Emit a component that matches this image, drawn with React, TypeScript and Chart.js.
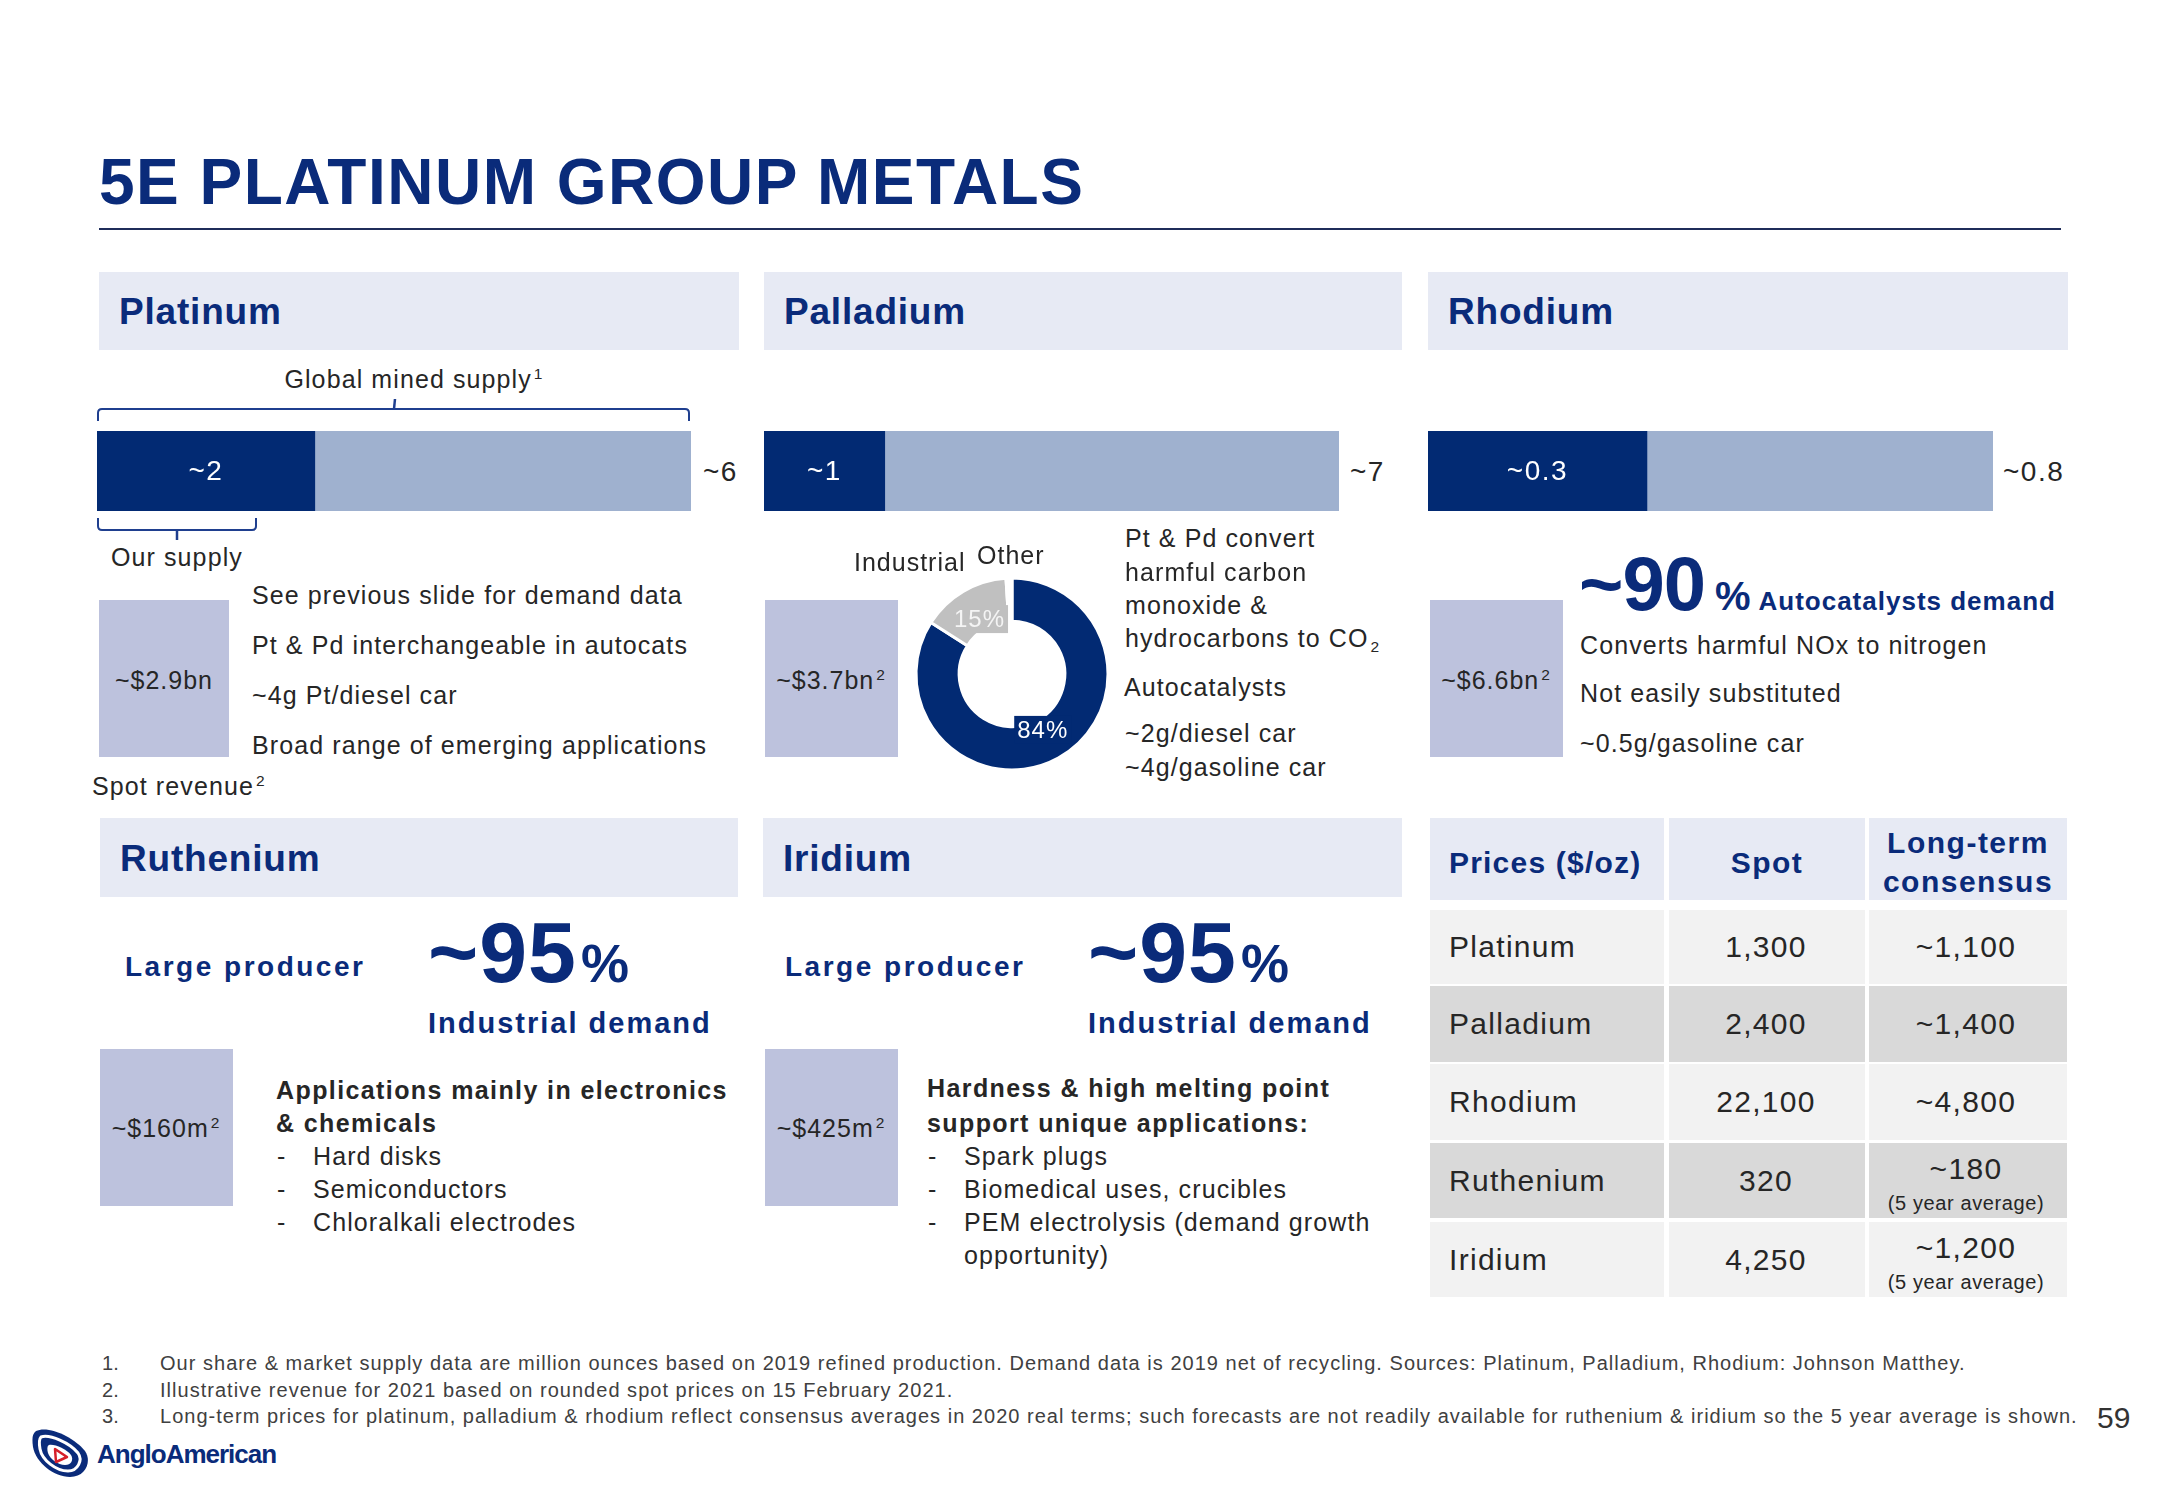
import React, { useEffect, useRef } from 'react';
import { Chart, registerables } from 'chart.js';

Chart.register(...registerables);

// ---------- data ----------
const supplyMetals = ['Platinum', 'Palladium', 'Rhodium'];
const ourSupply = [2.2, 1.47, 0.31];
const globalSupply = [6, 7, 0.8]; // Moz
const ourSupplyLabels = ['~2', '~1', '~0.3'];
const globalSupplyLabels = ['~6', '~7', '~0.8'];

const demandCategories = ['Autocatalysts', 'Industrial', 'Other'];
const palladiumDemandShare = [84, 15, 1];
const demandShareLabels = ['84%', '15%', ''];

const spotRevenue = ['~$2.9bn', '~$3.7bn', '~$6.6bn', '~$160m', '~$425m'];

const priceMetals = ['Platinum', 'Palladium', 'Rhodium', 'Ruthenium', 'Iridium'];
const spotPrices = ['1,300', '2,400', '22,100', '320', '4,250'];
const longTermPrices = ['~1,100', '~1,400', '~4,800', '~180', '~1,200'];
const longTermNotes = ['', '', '', '(5 year average)', '(5 year average)'];

const footnotes = [
  'Our share & market supply data are million ounces based on 2019 refined production. Demand data is 2019 net of recycling. Sources: Platinum, Palladium, Rhodium: Johnson Matthey.',
  'Illustrative revenue for 2021 based on rounded spot prices on 15 February 2021.',
  'Long-term prices for platinum, palladium & rhodium reflect consensus averages in 2020 real terms; such forecasts are not readily available for ruthenium & iridium so the 5 year average is shown.',
];

// ---------- styles ----------
const NAVY = '#0a2b7a';
const BAR_DARK = '#022a73';
const BAR_LIGHT = '#9fb1cf';
const HEADER_BG = '#e7eaf4';
const REV_BOX = '#bdc2dd';
const DONUT_GRAY = '#c0c0c0';
const TEXT = '#262626';
const FONT = '"Liberation Sans", Arial, sans-serif';

type TP = {
  x: number;
  y: number;
  size: number;
  bold?: boolean;
  color?: string;
  ls?: number;
  align?: 'left' | 'center' | 'right';
  children: any;
};

const T = ({ x, y, size, bold, color = TEXT, ls = 0, align = 'left', children }: TP) => {
  const tx = align === 'center' ? '-50%' : align === 'right' ? '-100%' : '0';
  return (
    <div
      style={{
        position: 'absolute',
        left: x,
        top: y,
        fontSize: size,
        fontWeight: bold ? 700 : 400,
        color,
        letterSpacing: ls,
        lineHeight: 1,
        whiteSpace: 'nowrap',
        transform: `translate(${tx}, -50%)`,
      }}
    >
      {children}
    </div>
  );
};

const Sup = ({ children }: { children: any }) => (
  <span style={{ fontSize: '0.62em', position: 'relative', top: '-0.6em', marginLeft: 2 }}>{children}</span>
);
const Sub = ({ children }: { children: any }) => (
  <span style={{ fontSize: '0.62em', position: 'relative', top: '0.35em', marginLeft: 2 }}>{children}</span>
);

const Box = ({ x, y, w, h, bg }: { x: number; y: number; w: number; h: number; bg: string }) => (
  <div style={{ position: 'absolute', left: x, top: y, width: w, height: h, background: bg }} />
);

// ---------- charts ----------
function SupplyBar({ index, left, top, width, height }: { index: number; left: number; top: number; width: number; height: number }) {
  const ref = useRef<HTMLCanvasElement>(null);
  useEffect(() => {
    const labelPlugin = {
      id: 'innerLabel',
      afterDatasetsDraw(chart: any) {
        const el = chart.getDatasetMeta(0).data[0];
        const { x, y, base } = el.getProps(['x', 'y', 'base'], true);
        const ctx = chart.ctx;
        ctx.save();
        ctx.fillStyle = '#ffffff';
        ctx.font = `28px ${FONT}`;
        (ctx as any).letterSpacing = '1.5px';
        ctx.textAlign = 'center';
        ctx.textBaseline = 'middle';
        ctx.fillText(ourSupplyLabels[index], (x + base) / 2, y + 1);
        ctx.restore();
      },
    };
    const chart = new Chart(ref.current!, {
      type: 'bar',
      data: {
        labels: [supplyMetals[index]],
        datasets: [
          {
            label: 'Our supply',
            data: [ourSupply[index]],
            backgroundColor: BAR_DARK,
            borderWidth: 0,
            categoryPercentage: 1,
            barPercentage: 1,
          },
          {
            label: 'Global mined supply',
            data: [globalSupply[index] - ourSupply[index]],
            backgroundColor: BAR_LIGHT,
            borderWidth: 0,
            categoryPercentage: 1,
            barPercentage: 1,
          },
        ],
      },
      options: {
        indexAxis: 'y',
        responsive: false,
        animation: false,
        devicePixelRatio: 1,
        events: [],
        layout: { padding: 0 },
        scales: {
          x: { stacked: true, min: 0, max: globalSupply[index], display: false },
          y: { stacked: true, display: false },
        },
        plugins: { legend: { display: false }, tooltip: { enabled: false } },
      },
      plugins: [labelPlugin],
    });
    return () => chart.destroy();
  }, []);
  return (
    <canvas
      ref={ref}
      width={width}
      height={height}
      style={{ position: 'absolute', left, top, width, height }}
    />
  );
}

function DemandDonut({ left, top, size }: { left: number; top: number; size: number }) {
  const ref = useRef<HTMLCanvasElement>(null);
  useEffect(() => {
    const segColors = [BAR_DARK, DONUT_GRAY, '#ffffff'];
    const labelColors = ['#ffffff', '#f4f4f4', '#ffffff'];
    const labelPlugin = {
      id: 'donutLabels',
      afterDatasetsDraw(chart: any) {
        const ctx = chart.ctx;
        const meta = chart.getDatasetMeta(0);
        meta.data.forEach((arc: any, i: number) => {
          const text = demandShareLabels[i];
          if (!text) return;
          const p = arc.getProps(['x', 'y', 'startAngle', 'endAngle', 'innerRadius', 'outerRadius'], true);
          const mid = (p.startAngle + p.endAngle) / 2;
          const r = p.innerRadius + 11;
          const cx = p.x + Math.cos(mid) * r;
          const cy = p.y + Math.sin(mid) * r;
          ctx.save();
          ctx.font = `24px ${FONT}`;
          (ctx as any).letterSpacing = '1px';
          const w = ctx.measureText(text).width + 6;
          const h = 28;
          ctx.fillStyle = segColors[i];
          ctx.fillRect(cx - w / 2, cy - h / 2, w, h);
          ctx.fillStyle = labelColors[i];
          ctx.textAlign = 'center';
          ctx.textBaseline = 'middle';
          ctx.fillText(text, cx, cy + 1);
          ctx.restore();
        });
      },
    };
    const chart = new Chart(ref.current!, {
      type: 'doughnut',
      data: {
        labels: demandCategories,
        datasets: [
          {
            data: palladiumDemandShare,
            backgroundColor: segColors,
            borderColor: '#ffffff',
            borderWidth: 3,
          },
        ],
      },
      options: {
        responsive: false,
        animation: false,
        devicePixelRatio: 1,
        events: [],
        cutout: '55%',
        radius: 96,
        layout: { padding: 0 },
        plugins: { legend: { display: false }, tooltip: { enabled: false } },
      },
      plugins: [labelPlugin],
    });
    return () => chart.destroy();
  }, []);
  return (
    <canvas ref={ref} width={size} height={size} style={{ position: 'absolute', left, top, width: size, height: size }} />
  );
}

// ---------- layout pieces ----------
const SectionHeader = ({ x, y, w, h, title }: { x: number; y: number; w: number; h: number; title: string }) => (
  <>
    <Box x={x} y={y} w={w} h={h} bg={HEADER_BG} />
    <T x={x + 20} y={y + h / 2} size={37} bold color={NAVY} ls={0.8}>
      {title}
    </T>
  </>
);

const BodyLine = (p: { x: number; y: number; children: any; bold?: boolean }) => (
  <T x={p.x} y={p.y} size={25} ls={p.bold ? 1.4 : 1.1} bold={p.bold}>
    {p.children}
  </T>
);

const DashItem = ({ x, tx, y, children }: { x: number; tx: number; y: number; children: any }) => (
  <>
    <T x={x} y={y} size={25}>-</T>
    <T x={tx} y={y} size={25} ls={1.1}>
      {children}
    </T>
  </>
);

const BigStat = ({ x, baseline, num, size, pctSize }: { x: number; baseline: number; num: string; size: number; pctSize: number }) => (
  <div
    style={{
      position: 'absolute',
      left: x,
      top: baseline - size * 0.8465,
      lineHeight: 1,
      display: 'flex',
      alignItems: 'baseline',
      color: NAVY,
      fontWeight: 700,
      whiteSpace: 'nowrap',
    }}
  >
    <span style={{ fontSize: size, letterSpacing: 1 }}>{num}</span>
    <span style={{ fontSize: pctSize, marginLeft: 4 }}>%</span>
  </div>
);

function PriceTable() {
  const cols = [
    [1430, 234],
    [1669, 196],
    [1869, 198],
  ];
  const rowTops = [910, 986, 1064, 1143, 1222];
  const rowHeights = [74, 76, 76, 75, 75];
  return (
    <>
      {cols.map(([x, w], i) => (
        <Box key={'h' + i} x={x} y={818} w={w} h={82} bg={HEADER_BG} />
      ))}
      <T x={1449} y={863} size={30} bold color={NAVY} ls={1.2}>
        Prices ($/oz)
      </T>
      <T x={1767} y={863} size={30} bold color={NAVY} ls={1.5} align="center">
        Spot
      </T>
      <T x={1968} y={843} size={30} bold color={NAVY} ls={1.5} align="center">
        Long-term
      </T>
      <T x={1968} y={882} size={30} bold color={NAVY} ls={1.5} align="center">
        consensus
      </T>
      {priceMetals.map((m, r) => {
        const bg = r % 2 === 0 ? '#f2f2f2' : '#d9d9d9';
        const top = rowTops[r];
        const h = rowHeights[r];
        const mid = top + h / 2;
        const hasNote = !!longTermNotes[r];
        return (
          <React.Fragment key={m}>
            {cols.map(([x, w], i) => (
              <Box key={i} x={x} y={top} w={w} h={h} bg={bg} />
            ))}
            <T x={1449} y={mid} size={30} ls={1.3}>
              {m}
            </T>
            <T x={1766} y={mid} size={30} ls={1.3} align="center">
              {spotPrices[r]}
            </T>
            <T x={1966} y={hasNote ? top + 26 : mid} size={30} ls={1.3} align="center">
              {longTermPrices[r]}
            </T>
            {hasNote && (
              <T x={1966} y={top + 60} size={20} ls={0.6} align="center">
                {longTermNotes[r]}
              </T>
            )}
          </React.Fragment>
        );
      })}
    </>
  );
}

const Logo = () => (
  <>
    <svg
      width={62}
      height={52}
      viewBox="0 0 62 52"
      style={{ position: 'absolute', left: 30, top: 1427 }}
    >
      <path
        d="M6 4 C 18 -2, 44 10, 55 24 C 62 34, 56 50, 40 50 C 24 50, 6 36, 3 20 C 2 12, 2 7, 6 4 Z"
        fill={NAVY}
      />
      <path
        d="M11 10 C 20 7, 40 16, 48 26 C 53 33, 48 44, 38 44 C 26 44, 12 33, 10 22 C 9 16, 9 12, 11 10 Z"
        fill="none"
        stroke="#ffffff"
        strokeWidth={3}
      />
      <path
        d="M19 18 C 25 17, 36 22, 41 28 C 44 33, 41 38, 35 38 C 28 38, 20 32, 18 26 C 17 22, 17 19, 19 18 Z"
        fill="#ffffff"
      />
      <path d="M25 22 L 37 30 L 26 35 Z" fill="none" stroke="#d6202a" strokeWidth={2.5} strokeLinejoin="round" />
    </svg>
    <T x={97} y={1454} size={26} bold color={NAVY} ls={-1}>
      AngloAmerican
    </T>
  </>
);

export default function App() {
  return (
    <div
      style={{
        position: 'absolute',
        left: 0,
        top: 0,
        width: 2166,
        height: 1500,
        background: '#ffffff',
        overflow: 'hidden',
        fontFamily: FONT,
        color: TEXT,
      }}
    >
      {/* Title */}
      <T x={99} y={182} size={64} bold color={NAVY} ls={1.5}>
        5E PLATINUM GROUP METALS
      </T>
      <div style={{ position: 'absolute', left: 99, top: 228, width: 1962, height: 2, background: '#1f2d5a' }} />

      {/* Section headers */}
      <SectionHeader x={99} y={272} w={640} h={78} title="Platinum" />
      <SectionHeader x={764} y={272} w={638} h={78} title="Palladium" />
      <SectionHeader x={1428} y={272} w={640} h={78} title="Rhodium" />
      <SectionHeader x={100} y={818} w={638} h={79} title="Ruthenium" />
      <SectionHeader x={763} y={818} w={639} h={79} title="Iridium" />

      {/* Platinum supply bar with brackets */}
      <T x={414} y={379} size={25} ls={1.1} align="center">
        Global mined supply<Sup>1</Sup>
      </T>
      <svg width={2166} height={600} style={{ position: 'absolute', left: 0, top: 0 }}>
        <path d="M98 421 L98 413 Q98 409 102 409 L685 409 Q689 409 689 413 L689 421" fill="none" stroke="#1f3f8f" strokeWidth={2} />
        <path d="M394 409 L395 399" fill="none" stroke="#1f3f8f" strokeWidth={2.5} />
        <path d="M98 518 L98 526 Q98 530 102 530 L252 530 Q256 530 256 526 L256 518" fill="none" stroke="#1f3f8f" strokeWidth={2} />
        <path d="M177 530 L177 540" fill="none" stroke="#1f3f8f" strokeWidth={2.5} />
      </svg>
      <SupplyBar index={0} left={97} top={431} width={594} height={80} />
      <SupplyBar index={1} left={764} top={431} width={575} height={80} />
      <SupplyBar index={2} left={1428} top={431} width={565} height={80} />
      <T x={703} y={472} size={28} ls={1.5}>
        {globalSupplyLabels[0]}
      </T>
      <T x={1350} y={472} size={28} ls={1.5}>
        {globalSupplyLabels[1]}
      </T>
      <T x={2003} y={472} size={28} ls={1.5}>
        {globalSupplyLabels[2]}
      </T>

      {/* Platinum body */}
      <T x={111} y={557} size={25} ls={1.1}>
        Our supply
      </T>
      <Box x={99} y={600} w={130} h={157} bg={REV_BOX} />
      <T x={164} y={680} size={25} ls={1} align="center">
        {spotRevenue[0]}
      </T>
      <BodyLine x={252} y={595}>See previous slide for demand data</BodyLine>
      <BodyLine x={252} y={645}>Pt &amp; Pd interchangeable in autocats</BodyLine>
      <BodyLine x={252} y={695}>~4g Pt/diesel car</BodyLine>
      <BodyLine x={252} y={745}>Broad range of emerging applications</BodyLine>
      <T x={92} y={786} size={25} ls={1.1}>
        Spot revenue<Sup>2</Sup>
      </T>

      {/* Palladium body */}
      <Box x={765} y={600} w={133} h={157} bg={REV_BOX} />
      <T x={831} y={680} size={25} ls={1} align="center">
        {spotRevenue[1]}
        <Sup>2</Sup>
      </T>
      <DemandDonut left={907} top={569} size={210} />
      <T x={854} y={562} size={25} ls={1}>
        Industrial
      </T>
      <T x={977} y={555} size={25} ls={1}>
        Other
      </T>
      <BodyLine x={1125} y={538}>Pt &amp; Pd convert</BodyLine>
      <BodyLine x={1125} y={572}>harmful carbon</BodyLine>
      <BodyLine x={1125} y={605}>monoxide &amp;</BodyLine>
      <BodyLine x={1125} y={638}>
        hydrocarbons to CO<Sub>2</Sub>
      </BodyLine>
      <BodyLine x={1124} y={687}>Autocatalysts</BodyLine>
      <BodyLine x={1125} y={733}>~2g/diesel car</BodyLine>
      <BodyLine x={1125} y={767}>~4g/gasoline car</BodyLine>

      {/* Rhodium body */}
      <Box x={1430} y={600} w={133} h={157} bg={REV_BOX} />
      <T x={1496} y={680} size={25} ls={1} align="center">
        {spotRevenue[2]}
        <Sup>2</Sup>
      </T>
      <div
        style={{
          position: 'absolute',
          left: 1579,
          top: 610 - 76 * 0.8465,
          lineHeight: 1,
          display: 'flex',
          alignItems: 'baseline',
          color: NAVY,
          fontWeight: 700,
          whiteSpace: 'nowrap',
        }}
      >
        <span style={{ fontSize: 76, letterSpacing: -1 }}>~90</span>
        <span style={{ fontSize: 40, marginLeft: 10 }}>%</span>
        <span style={{ fontSize: 26, marginLeft: 8, letterSpacing: 1 }}>Autocatalysts demand</span>
      </div>
      <BodyLine x={1580} y={645}>Converts harmful NOx to nitrogen</BodyLine>
      <BodyLine x={1580} y={693}>Not easily substituted</BodyLine>
      <BodyLine x={1580} y={743}>~0.5g/gasoline car</BodyLine>

      {/* Ruthenium body */}
      <T x={125} y={967} size={28} bold color={NAVY} ls={2.5}>
        Large producer
      </T>
      <BigStat x={428} baseline={982} num="~95" size={86} pctSize={54} />
      <T x={428} y={1023} size={29} bold color={NAVY} ls={2}>
        Industrial demand
      </T>
      <Box x={100} y={1049} w={133} h={157} bg={REV_BOX} />
      <T x={166} y={1128} size={25} ls={1} align="center">
        {spotRevenue[3]}
        <Sup>2</Sup>
      </T>
      <BodyLine x={276} y={1090} bold>
        Applications mainly in electronics
      </BodyLine>
      <BodyLine x={276} y={1123} bold>
        &amp; chemicals
      </BodyLine>
      <DashItem x={277} tx={313} y={1156}>Hard disks</DashItem>
      <DashItem x={277} tx={313} y={1189}>Semiconductors</DashItem>
      <DashItem x={277} tx={313} y={1222}>Chloralkali electrodes</DashItem>

      {/* Iridium body */}
      <T x={785} y={967} size={28} bold color={NAVY} ls={2.5}>
        Large producer
      </T>
      <BigStat x={1088} baseline={982} num="~95" size={86} pctSize={54} />
      <T x={1088} y={1023} size={29} bold color={NAVY} ls={2}>
        Industrial demand
      </T>
      <Box x={765} y={1049} w={133} h={157} bg={REV_BOX} />
      <T x={831} y={1128} size={25} ls={1} align="center">
        {spotRevenue[4]}
        <Sup>2</Sup>
      </T>
      <BodyLine x={927} y={1088} bold>
        Hardness &amp; high melting point
      </BodyLine>
      <BodyLine x={927} y={1123} bold>
        support unique applications:
      </BodyLine>
      <DashItem x={928} tx={964} y={1156}>Spark plugs</DashItem>
      <DashItem x={928} tx={964} y={1189}>Biomedical uses, crucibles</DashItem>
      <DashItem x={928} tx={964} y={1222}>PEM electrolysis (demand growth</DashItem>
      <T x={964} y={1255} size={25} ls={1.1}>
        opportunity)
      </T>

      {/* Prices table */}
      <PriceTable />

      {/* Footnotes */}
      {footnotes.map((f, i) => (
        <React.Fragment key={i}>
          <T x={102} y={1363 + i * 26.5} size={20} color="#404040">
            {i + 1}.
          </T>
          <T x={160} y={1363 + i * 26.5} size={20} color="#404040" ls={1.02}>
            {f}
          </T>
        </React.Fragment>
      ))}
      <T x={2097} y={1418} size={30} color="#333333">
        59
      </T>
      <Logo />
    </div>
  );
}
